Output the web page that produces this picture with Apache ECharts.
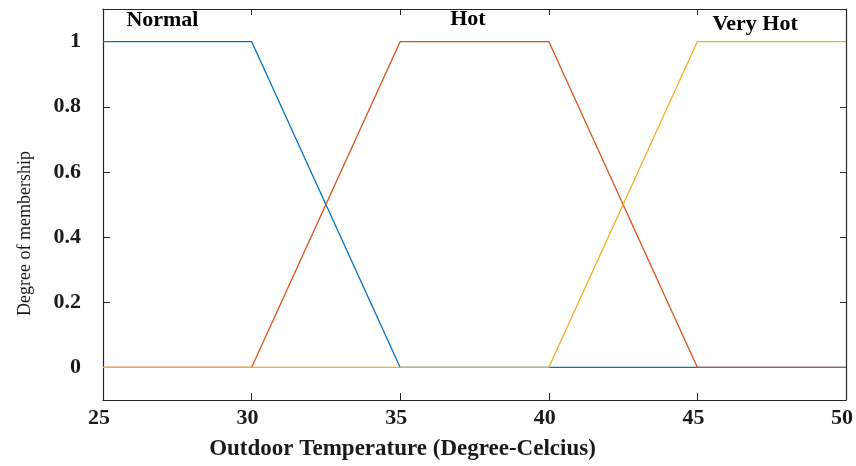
<!DOCTYPE html>
<html>
<head>
<meta charset="utf-8">
<script src="https://cdn.jsdelivr.net/npm/echarts@6/dist/echarts.min.js"></script>
<style>html,body{margin:0;padding:0;background:#fff;}#c{width:856px;height:466px;}</style>
</head>
<body>
<div id="c"></div>
<script>
// Data
const temps = [25, 30, 35, 40, 45, 50];
const normalVals = [1, 1, 0, 0, 0, 0];
const hotVals = [0, 0, 1, 1, 0, 0];
const veryHotVals = [0, 0, 0, 0, 1, 1];
const seriesNames = ['Normal', 'Hot', 'Very Hot'];
const labelPos = [[27.0, 1.064], [37.28, 1.067], [46.94, 1.053]];
const yTicks = [0, 0.2, 0.4, 0.6, 0.8, 1];
const xTicks = [25, 30, 35, 40, 45, 50];
const xName = 'Outdoor Temperature (Degree-Celcius)';
const yName = 'Degree of membership';

const colors = ['#0072BD', '#D95319', '#EDB120'];
const vals = [normalVals, hotVals, veryHotVals];
const font = '"Liberation Serif", "Times New Roman", serif';
const axisColor = '#262626';

const chart = echarts.init(document.getElementById('c'));
const series = vals.map((v, i) => ({
  name: seriesNames[i],
  type: 'line',
  data: temps.map((t, j) => [t, v[j]]),
  symbol: 'none',
  lineStyle: { color: colors[i], width: 1.3 },
  z: 2 + i,
  markPoint: {
    symbol: 'circle', symbolSize: 1,
    itemStyle: { color: 'rgba(0,0,0,0)' },
    label: { show: true, position: 'inside', formatter: seriesNames[i], color: '#000', fontFamily: font, fontWeight: 'bold', fontSize: 22 },
    data: [{ coord: labelPos[i] }]
  }
}));

const fmt = v => String(+(+v).toFixed(1));

chart.setOption({
  animation: false,
  grid: { left: 103, right: 8, top: 9, bottom: 61, containLabel: false },
  xAxis: [{
    type: 'value', min: 25, max: 50, interval: 5,
    axisLine: { show: true, onZero: false, lineStyle: { color: axisColor, width: 1.2 } },
    axisTick: { show: true, inside: true, length: 7, lineStyle: { color: axisColor } },
    splitLine: { show: false },
    axisLabel: { color: '#1a1a1a', fontFamily: font, fontWeight: 'bold', fontSize: 22, margin: 7, padding: [0, 8, 0, 0] },
    name: xName, nameLocation: 'middle', nameGap: 38,
    nameTextStyle: { color: '#1a1a1a', fontFamily: font, fontWeight: 'bold', fontSize: 23, padding: [0, 144, 0, 0] }
  }, {
    type: 'value', position: 'top', min: 25, max: 50, interval: 5,
    axisLine: { show: true, onZero: false, lineStyle: { color: axisColor, width: 1.2 } },
    axisTick: { show: true, inside: true, length: 6, lineStyle: { color: axisColor } },
    axisLabel: { show: false }, splitLine: { show: false }
  }],
  yAxis: [{
    type: 'value', min: -0.1, max: 1.1,
    axisLine: { show: true, onZero: false, lineStyle: { color: axisColor, width: 1.2 } },
    axisTick: { show: true, inside: true, length: 7, customValues: yTicks, lineStyle: { color: axisColor } },
    splitLine: { show: false },
    axisLabel: { customValues: yTicks, formatter: fmt, color: '#1a1a1a', fontFamily: font, fontWeight: 'bold', fontSize: 22, margin: 22, padding: [0, 0, 10, 0] },
    name: yName, nameLocation: 'middle', nameGap: 69,
    nameTextStyle: { color: '#1a1a1a', fontFamily: font, fontSize: 18, padding: [0, 58, 0, 0] }
  }, {
    type: 'value', position: 'right', min: -0.1, max: 1.1,
    axisLine: { show: true, onZero: false, lineStyle: { color: axisColor, width: 1.2 } },
    axisTick: { show: true, inside: true, length: 6, customValues: yTicks, lineStyle: { color: axisColor } },
    axisLabel: { show: false }, splitLine: { show: false }
  }],
  series: series
});
</script>
</body>
</html>
